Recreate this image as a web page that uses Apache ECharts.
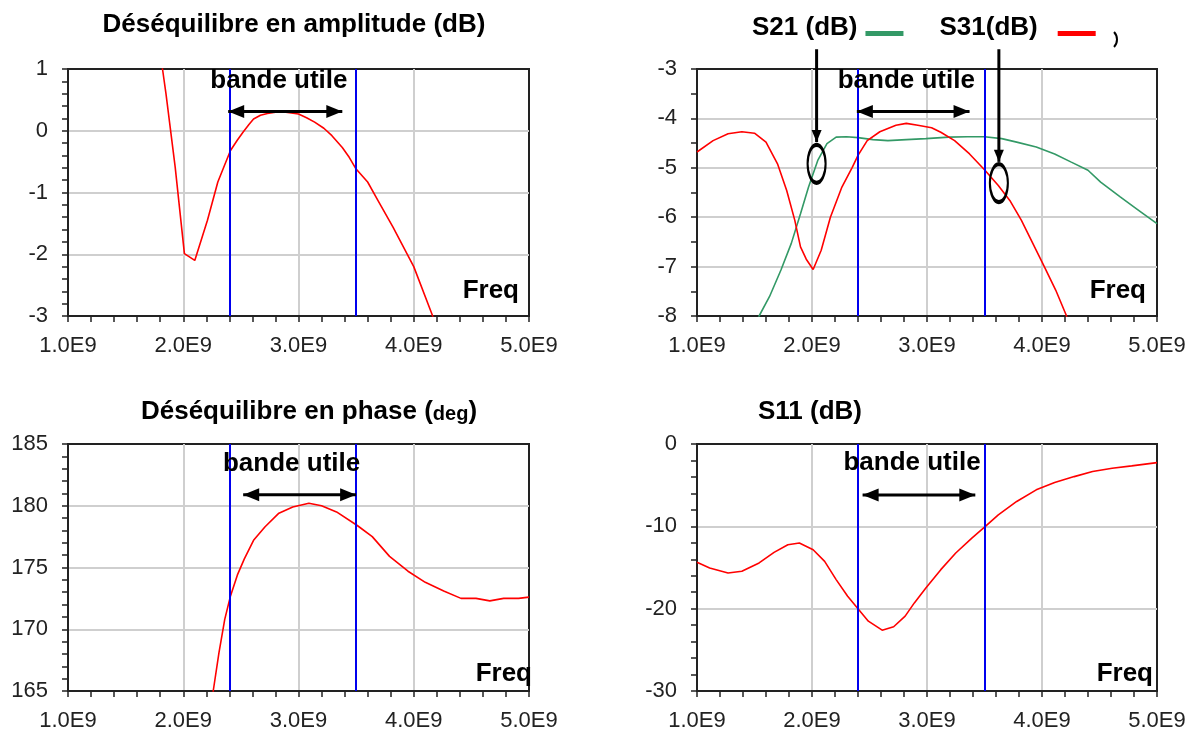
<!DOCTYPE html>
<html>
<head>
<meta charset="utf-8">
<script src="https://cdn.jsdelivr.net/npm/echarts@6/dist/echarts.min.js"></script>
<style>
  html, body { margin: 0; padding: 0; background: #ffffff; }
  #chart { width: 1195px; height: 734px; }
</style>
</head>
<body>
<div id="chart"></div>
<script>
// Frequencies are in GHz; tick labels are written as x.xE9 (Hz).
const freqTicks = [1, 2, 3, 4, 5];
const usefulBand = [2.4, 3.5];

// Amplitude imbalance (dB)
const ampFreq = [1.79, 1.82, 1.85, 1.93, 2.01, 2.10, 2.21, 2.30, 2.36, 2.41, 2.47, 2.52, 2.57, 2.61, 2.67, 2.73, 2.80, 2.89, 3.00, 3.07, 3.14, 3.22, 3.29, 3.38, 3.44, 3.50, 3.60, 3.69, 3.82, 4.00, 4.16, 4.20];
const ampDb   = [1.40, 1.00, 0.60, -0.59, -1.99, -2.10, -1.45, -0.83, -0.55, -0.32, -0.15, -0.02, 0.10, 0.19, 0.25, 0.28, 0.30, 0.30, 0.27, 0.21, 0.14, 0.04, -0.08, -0.27, -0.43, -0.62, -0.83, -1.13, -1.56, -2.20, -2.98, -3.20];

// Transmission S21 / S31 (dB)
const s21Freq = [1.50, 1.54, 1.63, 1.73, 1.82, 1.90, 1.97, 2.05, 2.13, 2.21, 2.30, 2.40, 2.53, 2.66, 2.82, 2.99, 3.19, 3.35, 3.50, 3.65, 3.78, 3.95, 4.11, 4.25, 4.40, 4.51, 4.68, 4.84, 5.00];
const s21Db   = [-8.30, -8.00, -7.61, -7.07, -6.53, -5.93, -5.39, -4.85, -4.51, -4.38, -4.37, -4.39, -4.43, -4.45, -4.43, -4.41, -4.38, -4.37, -4.37, -4.41, -4.48, -4.58, -4.72, -4.88, -5.05, -5.29, -5.59, -5.86, -6.13];
const s31Freq = [1.00, 1.14, 1.27, 1.39, 1.50, 1.60, 1.70, 1.78, 1.85, 1.90, 1.95, 2.01, 2.08, 2.16, 2.26, 2.35, 2.40, 2.48, 2.59, 2.73, 2.82, 2.92, 3.04, 3.12, 3.24, 3.37, 3.50, 3.62, 3.72, 3.82, 3.92, 4.02, 4.12, 4.21, 4.25];
const s31Db   = [-4.68, -4.45, -4.31, -4.27, -4.30, -4.48, -4.92, -5.46, -6.06, -6.60, -6.85, -7.06, -6.67, -6.00, -5.39, -4.99, -4.75, -4.45, -4.27, -4.14, -4.10, -4.14, -4.19, -4.28, -4.45, -4.72, -5.04, -5.36, -5.66, -6.06, -6.53, -7.00, -7.48, -7.98, -8.30];

// Phase imbalance (deg)
const phaseFreq = [2.24, 2.26, 2.31, 2.36, 2.41, 2.47, 2.53, 2.61, 2.71, 2.83, 2.95, 3.09, 3.20, 3.33, 3.51, 3.64, 3.79, 3.95, 4.10, 4.26, 4.41, 4.54, 4.66, 4.78, 4.91, 5.00];
const phaseDeg  = [163.5, 165.0, 168.1, 170.8, 172.7, 174.4, 175.7, 177.2, 178.3, 179.4, 179.9, 180.2, 180.0, 179.5, 178.4, 177.5, 175.9, 174.7, 173.8, 173.1, 172.5, 172.5, 172.3, 172.5, 172.5, 172.6];

// Reflection S11 (dB)
const s11Freq = [1.00, 1.11, 1.27, 1.39, 1.54, 1.67, 1.79, 1.89, 2.01, 2.11, 2.21, 2.31, 2.40, 2.49, 2.61, 2.71, 2.81, 2.89, 2.99, 3.12, 3.25, 3.39, 3.50, 3.62, 3.78, 3.95, 4.11, 4.28, 4.44, 4.61, 4.78, 5.00];
const s11Db   = [-14.37, -15.06, -15.66, -15.46, -14.45, -13.16, -12.23, -12.03, -12.84, -14.25, -16.47, -18.49, -20.02, -21.52, -22.61, -22.20, -20.91, -19.30, -17.48, -15.26, -13.24, -11.43, -10.09, -8.60, -6.98, -5.57, -4.68, -3.96, -3.35, -2.95, -2.66, -2.26];

// "bande utile" double arrows (tip to tip) and label anchors, in data units
const ampBandArrow   = [[2.39, 0.31], [3.38, 0.31]];
const ampBandLabel   = [2.83, 0.81];
const sParBandArrow  = [[2.39, -3.86], [3.37, -3.86]];
const sParBandLabel  = [2.82, -3.24];
const phaseBandArrow = [[2.52, 180.9], [3.50, 180.9]];
const phaseBandLabel = [2.94, 183.4];
const s11BandArrow   = [[2.44, -6.18], [3.42, -6.18]];
const s11BandLabel   = [2.87, -2.34];

// Legend pointers down to the curves, and the rings around them
const s21Pointer = [[2.04, -2.60], [2.04, -4.48]];
const s21Ring    = [2.04, -4.92];
const s31Pointer = [[3.625, -2.60], [3.625, -4.88]];
const s31Ring    = [3.625, -5.31];

const FONT = '"Liberation Sans", Arial, sans-serif';
const RED = '#ff0000';
const GREEN = '#339966';
const BLUE = '#0000ee';
const INK = '#222222';

const zip = (xs, ys) => xs.map((x, i) => [x, ys[i]]);

const grids = [
  { left: 68,  top: 69,  width: 461, height: 247 },
  { left: 697, top: 69,  width: 460, height: 247 },
  { left: 68,  top: 444, width: 461, height: 247 },
  { left: 697, top: 444, width: 460, height: 247 }
].map(g => Object.assign({
  show: true, borderColor: INK, borderWidth: 2, backgroundColor: '#ffffff',
  containLabel: false, outerBoundsMode: 'none'
}, g));

function freqAxis(gridIndex, nameGap, namePad) {
  return {
    gridIndex, type: 'value', min: freqTicks[0], max: freqTicks[freqTicks.length - 1], interval: 1,
    axisLine: { show: true, onZero: false, lineStyle: { color: INK, width: 2 } },
    axisTick: { show: true, length: 6, lineStyle: { color: INK, width: 1.5 } },
    minorTick: { show: true, splitNumber: 5, length: 6, lineStyle: { color: INK, width: 1.5 } },
    axisLabel: {
      showMinLabel: true, showMaxLabel: true, margin: 19,
      fontFamily: FONT, fontSize: 22, color: INK,
      formatter: v => v.toFixed(1) + 'E9'
    },
    splitLine: { show: true, showMinLine: false, showMaxLine: false, lineStyle: { color: '#cfcfcf', width: 2 } },
    name: 'Freq', nameLocation: 'end', nameGap, nameMoveOverlap: false,
    nameTextStyle: {
      fontFamily: FONT, fontSize: 26, fontWeight: 'bold', color: '#000',
      align: 'right', verticalAlign: 'bottom', padding: [0, 0, namePad, 0]
    }
  };
}

function valueAxis(gridIndex, min, max, interval, minorSplit) {
  return {
    gridIndex, type: 'value', min, max, interval,
    axisLine: { show: true, onZero: false, lineStyle: { color: INK, width: 2 } },
    axisTick: { show: true, length: 6, lineStyle: { color: INK, width: 1.5 } },
    minorTick: { show: true, splitNumber: minorSplit, length: 6, lineStyle: { color: INK, width: 1.5 } },
    axisLabel: { showMinLabel: true, showMaxLabel: true, margin: 20, fontFamily: FONT, fontSize: 22, color: INK },
    splitLine: { show: true, showMinLine: false, showMaxLine: false, lineStyle: { color: '#cfcfcf', width: 2 } }
  };
}

// Blue verticals bounding the useful band
const bandLines = {
  silent: true, symbol: ['none', 'none'], label: { show: false },
  lineStyle: { color: BLUE, width: 2, type: 'solid' },
  emphasis: { disabled: true },
  data: usefulBand.map(f => ({ xAxis: f }))
};

function bandLabel(coord) {
  return {
    silent: true, symbol: 'rect', symbolSize: 1,
    itemStyle: { color: 'rgba(0,0,0,0)' },
    label: {
      show: true, position: 'inside', formatter: 'bande utile',
      fontFamily: FONT, fontSize: 26, fontWeight: 'bold', color: '#000'
    },
    data: [{ coord }]
  };
}

function curve(name, xs, ys, color, axisIndex, extra) {
  return Object.assign({
    name, type: 'line', xAxisIndex: axisIndex, yAxisIndex: axisIndex,
    data: zip(xs, ys), showSymbol: false, symbol: 'none', smooth: false,
    color, lineStyle: { color, width: 1.6 }, silent: true, z: 3
  }, extra || {});
}

// Double-headed arrow, tips on the given points
function doubleArrow(points, axisIndex) {
  return {
    type: 'line', xAxisIndex: axisIndex, yAxisIndex: axisIndex, silent: true, clip: false, z: 6,
    color: '#000', lineStyle: { color: '#000', width: 3 }, itemStyle: { color: '#000' },
    showSymbol: true, showAllSymbol: true, symbol: 'triangle', symbolSize: [13, 16],
    data: [
      { value: points[0], symbolRotate: 90, symbolOffset: [8, 0] },
      { value: points[1], symbolRotate: -90, symbolOffset: [-8, 0] }
    ]
  };
}

// Downward pointer, head on the second point
function pointer(points, axisIndex) {
  return {
    type: 'line', xAxisIndex: axisIndex, yAxisIndex: axisIndex, silent: true, clip: false, z: 6,
    color: '#000', lineStyle: { color: '#000', width: 3 }, itemStyle: { color: '#000' },
    showSymbol: true, showAllSymbol: true, symbol: 'triangle', symbolSize: [10, 12],
    data: [
      { value: points[0], symbol: 'none' },
      { value: points[1], symbolRotate: 180, symbolOffset: [0, -6] }
    ]
  };
}

const titleFont = 'bold 26px ' + FONT;
const legendText = { fontFamily: FONT, fontSize: 26, fontWeight: 'bold', color: '#000' };

const option = {
  animation: false,
  backgroundColor: '#ffffff',
  grid: grids,
  xAxis: [freqAxis(0, -10, 12), freqAxis(1, -11, 12), freqAxis(2, 3, 4), freqAxis(3, -4, 4)],
  yAxis: [
    valueAxis(0, -3, 1, 1, 5),
    valueAxis(1, -8, -3, 1, 2),
    valueAxis(2, 165, 185, 5, 5),
    valueAxis(3, -30, 0, 10, 5)
  ],
  legend: {
    data: [
      { name: 'S21 (dB)', textStyle: Object.assign({ padding: [0, 3, 0, 0] }, legendText) },
      { name: 'S31(dB)', textStyle: Object.assign({ padding: [0, 15, 0, 0] }, legendText) }
    ],
    left: 752, top: 15, padding: 0, orient: 'horizontal', align: 'right',
    // bar sits in the lower part of the icon box, below the text's middle
    icon: 'path://M0,0 M0,11 L38,11 L38,16 L0,16 Z',
    itemWidth: 38, itemHeight: 16, itemGap: 36, selectedMode: false,
    textStyle: legendText
  },
  graphic: [
    { type: 'text', x: 294, y: 25, style: { text: 'Déséquilibre en amplitude (dB)', font: titleFont, fill: '#000', align: 'center', verticalAlign: 'middle' } },
    { type: 'text', x: 309, y: 412, style: {
        text: '{a|Déséquilibre en phase (}{b|deg}{a|)}', align: 'center', verticalAlign: 'middle', fill: '#000',
        rich: {
          a: { fontFamily: FONT, fontSize: 26, fontWeight: 'bold', fill: '#000', lineHeight: 30 },
          b: { fontFamily: FONT, fontSize: 20, fontWeight: 'bold', fill: '#000', lineHeight: 30, padding: [4, 0, 0, 0] }
        }
    } },
    { type: 'text', x: 810, y: 412, style: { text: 'S11 (dB)', font: titleFont, fill: '#000', align: 'center', verticalAlign: 'middle' } },
    { type: 'arc', shape: { cx: 1106, cy: 39.5, r: 11, startAngle: -0.75, endAngle: 0.75 }, style: { stroke: '#000', lineWidth: 2, fill: null } }
  ],
  series: [
    curve('Déséquilibre en amplitude', ampFreq, ampDb, RED, 0, { markLine: bandLines, markPoint: bandLabel(ampBandLabel) }),
    doubleArrow(ampBandArrow, 0),

    curve('S21 (dB)', s21Freq, s21Db, GREEN, 1),
    curve('S31(dB)', s31Freq, s31Db, RED, 1, { markLine: bandLines, markPoint: bandLabel(sParBandLabel) }),
    doubleArrow(sParBandArrow, 1),
    pointer(s21Pointer, 1),
    pointer(s31Pointer, 1),
    {
      type: 'scatter', xAxisIndex: 1, yAxisIndex: 1, silent: true, clip: false, z: 6,
      symbol: 'circle', symbolSize: [18, 38],
      itemStyle: { color: 'rgba(0,0,0,0)', borderColor: '#000', borderWidth: 3, opacity: 1 },
      data: [s21Ring, s31Ring]
    },

    curve('Déséquilibre en phase', phaseFreq, phaseDeg, RED, 2, { markLine: bandLines, markPoint: bandLabel(phaseBandLabel) }),
    doubleArrow(phaseBandArrow, 2),

    curve('S11', s11Freq, s11Db, RED, 3, { markLine: bandLines, markPoint: bandLabel(s11BandLabel) }),
    doubleArrow(s11BandArrow, 3)
  ]
};

const chart = echarts.init(document.getElementById('chart'), null, { renderer: 'canvas' });
chart.setOption(option);
</script>
</body>
</html>
